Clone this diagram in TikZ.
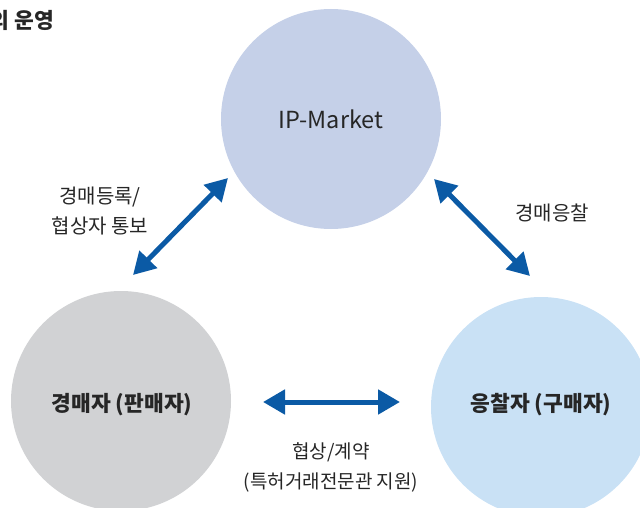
\documentclass[tikz,border=0pt]{standalone}
\usepackage{fontspec}
\setmainfont{Noto Sans CJK KR}
\usetikzlibrary{arrows.meta}
\definecolor{topc}{HTML}{C5D0E8}
\definecolor{leftc}{HTML}{D1D2D4}
\definecolor{rightc}{HTML}{C9E1F5}
\definecolor{arrc}{HTML}{0B5AA5}
\definecolor{txtc}{HTML}{262626}
\tikzset{
  bub/.style={circle, minimum size=220pt, inner sep=0pt, text=txtc},
  link/.style={arrc, line width=5pt, {Triangle[length=22pt,width=24pt]}-{Triangle[length=22pt,width=24pt]}},
  lbl/.style={text=txtc, font=\fontsize{20}{30}\selectfont, align=center, inner sep=0pt},
  big/.style={text=txtc, font=\fontsize{21.5}{26}\selectfont\bfseries}
}
\begin{document}
\begin{tikzpicture}[x=1pt,y=-1pt]
\useasboundingbox (0,0) rectangle (640,508);
\clip (0,0) rectangle (640,508);
\node[bub, fill=topc, font=\fontsize{23.5}{26}\selectfont] (ip) at (331,119) {IP-Market};
\node[bub, fill=leftc] (seller) at (121,401) {};
\node[big] (sellertxt) at (122,405) {경매자 (판매자)};
\node[bub, fill=rightc] (buyer) at (541,407) {};
\node[big] (buyertxt) at (541,405) {응찰자 (구매자)};
\node[anchor=east, text=txtc, font=\fontsize{21.5}{24}\selectfont\bfseries, inner sep=0pt] (title) at (54,20) {의 운영};
\coordinate (a1) at (228,178);
\coordinate (a2) at (133,275);
\coordinate (b1) at (434,179);
\coordinate (b2) at (530,276);
\coordinate (c1) at (263,402);
\coordinate (c2) at (400,402);
\draw[link] (a2) -- (a1);
\draw[link] (b1) -- (b2);
\draw[link] (c1) -- (c2);
\node[lbl] (l1) at (100,211) {경매등록/\\협상자 통보};
\node[lbl] (l2) at (552,213) {경매응찰};
\node[lbl, font=\fontsize{19}{30}\selectfont] (l3) at (331,467) {협상/계약\\(특허거래전문관 지원)};
\end{tikzpicture}
\end{document}
